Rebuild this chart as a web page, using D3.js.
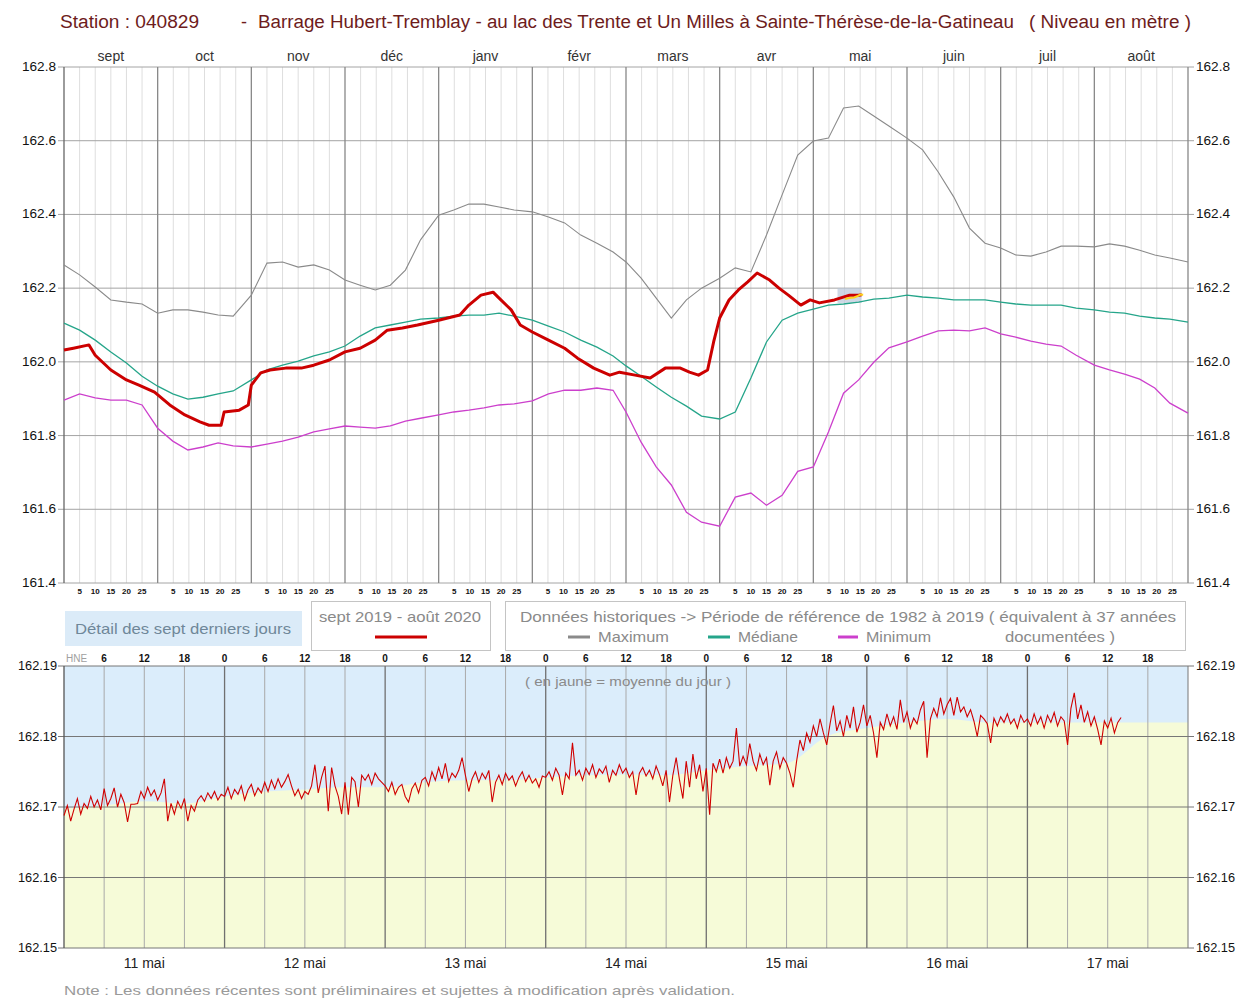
<!DOCTYPE html>
<html><head><meta charset="utf-8">
<script src="https://cdn.jsdelivr.net/npm/d3@7"></script>
<style>
body{margin:0;background:#fff}
svg{display:block}
text{font-family:"Liberation Sans Narrow","Arial Narrow","Liberation Sans",Arial,sans-serif}
</style>
</head><body>
<svg id="c" width="1238" height="999"></svg>
<script>
// ---------- DATA ----------
const months = ["sept","oct","nov","déc","janv","févr","mars","avr","mai","juin","juil","août"];
const monthLengths = [30,31,30,31,31,29,31,30,31,30,31,31,30];
const sampleDays = [1,6,11,16,21,26];
const yTicksTop = [161.4,161.6,161.8,162.0,162.2,162.4,162.6,162.8];
const dayTickLabels = ["5","10","15","20","25"];

const maxLevels = [162.263,162.236,162.203,162.168,162.162,162.157,
 162.132,162.141,162.141,162.135,162.127,162.124,
 162.181,162.268,162.271,162.257,162.263,162.249,
 162.222,162.208,162.195,162.208,162.249,162.331,
 162.398,162.412,162.428,162.428,162.420,162.412,
 162.407,162.393,162.377,162.344,162.322,162.298,
 162.271,162.227,162.173,162.119,162.168,162.200,
 162.227,162.255,162.244,162.344,162.453,162.561,
 162.599,162.607,162.689,162.694,162.667,162.640,
 162.607,162.575,162.515,162.447,162.363,162.322,
 162.309,162.290,162.287,162.298,162.314,162.314,
 162.312,162.320,162.314,162.303,162.290,162.282,
 162.271];
const medianLevels = [162.105,162.086,162.059,162.027,161.997,161.961,
 161.934,161.913,161.899,161.904,161.913,161.921,
 161.951,161.978,161.991,162.002,162.016,162.027,
 162.043,162.070,162.092,162.100,162.108,162.116,
 162.119,162.124,162.127,162.127,162.132,162.124,
 162.113,162.097,162.081,162.059,162.040,162.016,
 161.989,161.961,161.932,161.904,161.880,161.853,
 161.845,161.864,161.956,162.054,162.113,162.132,
 162.143,162.154,162.157,162.162,162.170,162.173,
 162.181,162.176,162.173,162.168,162.168,162.168,
 162.162,162.157,162.154,162.154,162.154,162.146,
 162.141,162.135,162.132,162.124,162.119,162.116,
 162.108];
const minLevels = [161.896,161.913,161.902,161.896,161.896,161.883,
 161.820,161.785,161.761,161.769,161.780,161.772,
 161.769,161.777,161.785,161.796,161.810,161.818,
 161.826,161.823,161.820,161.826,161.839,161.847,
 161.856,161.864,161.869,161.875,161.883,161.886,
 161.894,161.913,161.923,161.923,161.929,161.923,
 161.864,161.782,161.715,161.666,161.592,161.565,
 161.554,161.633,161.644,161.611,161.638,161.703,
 161.715,161.810,161.915,161.951,161.999,162.038,
 162.054,162.070,162.084,162.086,162.084,162.092,
 162.076,162.067,162.056,162.048,162.043,162.018,
 161.991,161.978,161.967,161.953,161.929,161.888,
 161.861];

const currentDates = ["2019-09-01","2019-09-04","2019-09-09","2019-09-11","2019-09-16","2019-09-21","2019-09-25","2019-09-30",
 "2019-10-05","2019-10-10","2019-10-15","2019-10-18","2019-10-22","2019-10-23","2019-10-28","2019-10-31",
 "2019-11-01","2019-11-04","2019-11-07","2019-11-12","2019-11-17","2019-11-21","2019-11-26",
 "2019-12-01","2019-12-06","2019-12-11","2019-12-15","2019-12-20","2019-12-25",
 "2020-01-01","2020-01-08","2020-01-11","2020-01-15","2020-01-19","2020-01-21","2020-01-25","2020-01-28",
 "2020-02-01","2020-02-06","2020-02-11","2020-02-15","2020-02-20","2020-02-25","2020-02-28",
 "2020-03-04","2020-03-09","2020-03-14","2020-03-19","2020-03-22","2020-03-25","2020-03-28","2020-03-30",
 "2020-04-01","2020-04-04","2020-04-07","2020-04-10","2020-04-13","2020-04-17","2020-04-20","2020-04-23","2020-04-27","2020-04-30",
 "2020-05-03","2020-05-08","2020-05-13","2020-05-16","2020-05-17"];
const currentLevels = [162.032,162.037,162.046,162.018,161.978,161.951,161.937,161.918,
 161.883,161.856,161.837,161.828,161.828,161.864,161.869,161.883,
 161.937,161.970,161.978,161.983,161.983,161.991,162.005,
 162.027,162.037,162.059,162.086,162.092,162.100,
 162.113,162.127,162.154,162.181,162.189,162.173,162.141,162.100,
 162.081,162.059,162.037,162.010,161.983,161.964,161.972,
 161.964,161.956,161.983,161.983,161.972,161.964,161.978,162.054,
 162.119,162.168,162.195,162.217,162.241,162.222,162.200,162.181,162.154,162.168,
 162.160,162.168,162.181,162.181,162.182];

const detailDayLabels = ["11 mai","12 mai","13 mai","14 mai","15 mai","16 mai","17 mai"];
const dailyMeans = [162.1705,162.1728,162.1740,162.1748,162.1780,162.1826,162.1820];
// running mean of the level (yellow fill), every 6 hours from 11 mai 0 h
const runningMean = [162.1698,162.1702,162.1708,162.1705,
 162.1715,162.1722,162.1725,162.1728,
 162.1728,162.1735,162.1738,162.1738,
 162.1742,162.1745,162.1746,162.1745,
 162.1752,162.1758,162.1762,162.1800,
 162.1812,162.1820,162.1825,162.1820,
 162.1820,162.1820,162.1820,162.1820,162.1820];

// half-hourly levels, last seven days
const levels11 = [162.1688,162.1702,162.1680,162.1697,162.1712,162.1690,162.1705,162.1698,162.1715,162.1700,162.1710,162.1696,
 162.1726,162.1702,162.1712,162.1727,162.1700,162.1718,162.1706,162.1679,162.1704,162.1704,162.1705,162.1722,
 162.1712,162.1728,162.1716,162.1724,162.1710,162.1720,162.1740,162.1680,162.1705,162.1690,162.1708,162.1698,
 162.1712,162.1680,162.1702,162.1694,162.1710,162.1716,162.1708,162.1720,162.1712,162.1722,162.1710,162.1718];
const levels12 = [162.1715,162.1728,162.1712,162.1725,162.1718,162.1730,162.1710,162.1724,162.1732,162.1716,162.1727,162.1720,
 162.1735,162.1722,162.1738,162.1726,162.1740,162.1728,162.1736,162.1746,162.1730,162.1716,162.1725,162.1712,
 162.1722,162.1718,162.1730,162.1760,162.1720,162.1742,162.1758,162.1694,162.1756,162.1730,162.1715,162.1690,
 162.1735,162.1689,162.1742,162.1736,162.1700,162.1745,162.1738,162.1746,162.1732,162.1748,162.1740,162.1735];
const levels13 = [162.1730,162.1722,162.1735,162.1718,162.1728,162.1732,162.1715,162.1707,162.1726,162.1734,162.1720,162.1738,
 162.1742,162.1730,162.1750,162.1738,162.1756,162.1740,162.1762,162.1736,162.1748,162.1742,162.1752,162.1770,
 162.1745,162.1722,162.1740,162.1750,162.1735,162.1748,162.1740,162.1752,162.1707,162.1735,162.1745,162.1732,
 162.1748,162.1738,162.1744,162.1730,162.1742,162.1750,162.1736,162.1745,162.1734,162.1740,162.1728,162.1744];
const levels14 = [162.1742,162.1750,162.1738,162.1755,162.1745,162.1717,162.1748,162.1740,162.1791,162.1745,162.1752,162.1738,
 162.1755,162.1746,162.1760,162.1742,162.1754,162.1748,162.1758,162.1735,162.1752,162.1745,162.1760,162.1748,
 162.1755,162.1742,162.1750,162.1717,162.1748,162.1756,162.1744,162.1752,162.1740,162.1758,162.1746,162.1730,
 162.1752,162.1707,162.1745,162.1770,162.1738,162.1712,162.1765,162.1728,162.1775,162.1740,162.1760,162.1722];
const levels15 = [162.1755,162.1689,162.1762,162.1750,162.1768,162.1748,162.1770,162.1755,162.1765,162.1812,162.1758,162.1772,
 162.1760,162.1790,162.1765,162.1752,162.1775,162.1760,162.1770,162.1731,162.1765,162.1778,162.1755,162.1770,
 162.1762,162.1748,162.1728,162.1765,162.1795,162.1780,162.1805,162.1792,162.1815,162.1800,162.1825,162.1805,
 162.1788,162.1818,162.1844,162.1808,162.1822,162.1800,162.1830,162.1812,162.1842,162.1806,162.1820,162.1845];
const levels16 = [162.1815,162.1830,162.1805,162.1770,162.1820,162.1810,162.1832,162.1815,162.1828,162.1810,162.1852,162.1820,
 162.1835,162.1812,162.1826,162.1818,162.1838,162.1850,162.1770,162.1825,162.1840,162.1828,162.1855,162.1832,
 162.1845,162.1854,162.1830,162.1856,162.1835,162.1842,162.1828,162.1838,162.1822,162.1800,162.1830,162.1825,
 162.1818,162.1791,162.1826,162.1815,162.1828,162.1820,162.1832,162.1818,162.1825,162.1812,162.1830,162.1820];
const levels17 = [162.1825,162.1815,162.1832,162.1818,162.1828,162.1812,162.1830,162.1820,162.1834,162.1815,162.1828,162.1822,
 162.1788,162.1840,162.1862,162.1825,162.1845,162.1820,162.1835,162.1815,162.1828,162.1810,162.1788,162.1822,
 162.1812,162.1826,162.1805,162.1820,162.1827];
const yTicksLow = [162.15,162.16,162.17,162.18,162.19];
const hourLabels = ["0","6","12","18"];

// ---------- HELPERS ----------
function monthPos(s){
  const [yy,mm,dd] = s.split("-").map(Number);
  const idx = (yy-2019)*12 + (mm-9);
  return idx + (dd-1)/monthLengths[idx];
}
const histDates = [];
months.forEach((m,i)=>{
  const cm = ((8+i)%12)+1, yr = i<4?2019:2020;
  sampleDays.forEach(d=>histDates.push(`${yr}-${String(cm).padStart(2,"0")}-${String(d).padStart(2,"0")}`));
});
histDates.push("2020-09-01");

const svg = d3.select("#c");

const titleCol = "#6e1c1c";
function txt(x,y,s,o={}){
  const t = svg.append("text").attr("x",x).attr("y",y).text(s)
    .attr("font-size",o.size||12).attr("fill",o.fill||"#222")
    .attr("text-anchor",o.anchor||"start");
  if(o.len){t.attr("textLength",o.len).attr("lengthAdjust","spacingAndGlyphs");}
  if(o.weight) t.attr("font-weight",o.weight);
  return t;
}
// ---------- TITLE ----------
txt(60,28,"Station : 040829",{size:18,fill:titleCol,len:139});
txt(241,28,"-",{size:18,fill:titleCol});
txt(258,28,"Barrage Hubert-Tremblay - au lac des Trente et Un Milles à Sainte-Thérèse-de-la-Gatineau",{size:18,fill:titleCol,len:756});
txt(1029,28,"( Niveau en mètre )",{size:18,fill:titleCol,len:162});

// ---------- TOP CHART ----------
const L=64,R=1188,TT=67,TB=583;
const x = d3.scaleLinear().domain([0,12]).range([L,R]);
const y = d3.scaleLinear().domain([161.4,162.8]).range([TB,TT]);

const gTop = svg.append("g");
for(let i=0;i<12;i++) for(let j=1;j<=5;j++){
  gTop.append("line").attr("x1",x(i+j/6)).attr("x2",x(i+j/6)).attr("y1",TT).attr("y2",TB)
    .attr("stroke","#dedede").attr("stroke-width",1);
}
yTicksTop.forEach(v=>{
  gTop.append("line").attr("x1",L-6).attr("x2",R+6).attr("y1",y(v)).attr("y2",y(v))
    .attr("stroke","#a4a4a4").attr("stroke-width",1);
  txt(L-8,y(v)+4,v.toFixed(1),{size:12,fill:"#111",anchor:"end",len:34});
  txt(R+8,y(v)+4,v.toFixed(1),{size:12,fill:"#111",len:34});
});
for(let i=0;i<=12;i++){
  gTop.append("line").attr("x1",x(i)).attr("x2",x(i)).attr("y1",TT).attr("y2",TB)
    .attr("stroke",(i===0)?"#666":"#888").attr("stroke-width",1.3);
}
months.forEach((m,i)=>txt(x(i+0.5),61,m,{size:14,fill:"#333",anchor:"middle"}));
months.forEach((m,i)=>dayTickLabels.forEach((d,j)=>
  txt(x(i+(j+1)/6),594,d,{size:8,fill:"#111",anchor:"middle",weight:"bold"})));

// highlight rect of last seven days
gTop.append("rect").attr("x",x(monthPos("2020-05-09"))).attr("width",x(monthPos("2020-05-17"))-x(monthPos("2020-05-09")))
  .attr("y",y(162.20)).attr("height",y(162.16)-y(162.20)).attr("fill","#b9c6d8").attr("opacity",0.7);

const lineTop = d3.line().x(d=>x(d.p)).y(d=>y(d.v));
const hist = (arr)=>arr.map((v,i)=>({p:monthPos(histDates[i]),v}));
gTop.append("path").attr("d",lineTop(hist(maxLevels))).attr("fill","none").attr("stroke","#8a8a8a").attr("stroke-width",1.1);
gTop.append("path").attr("d",lineTop(hist(medianLevels))).attr("fill","none").attr("stroke","#25a58a").attr("stroke-width",1.3);
gTop.append("path").attr("d",lineTop(hist(minLevels))).attr("fill","none").attr("stroke","#cc3fcc").attr("stroke-width",1.3);
gTop.append("path").attr("d",lineTop(currentLevels.map((v,i)=>({p:monthPos(currentDates[i]),v}))))
  .attr("fill","none").attr("stroke","#cc0000").attr("stroke-width",3).attr("stroke-linejoin","round");
gTop.append("path").attr("d",lineTop(dailyMeans.map((v,i)=>({p:monthPos(`2020-05-${11+i}`)+0.5/31,v}))))
  .attr("fill","none").attr("stroke","#ffd21a").attr("stroke-width",2);

// ---------- LEGEND ----------
svg.append("rect").attr("x",65).attr("y",611).attr("width",237).attr("height",35).attr("fill","#dbebf8");
txt(183,634,"Détail des sept derniers jours",{size:15,fill:"#6f8799",anchor:"middle",len:216});
svg.append("rect").attr("x",311.5).attr("y",601.5).attr("width",179).attr("height",49).attr("fill","#fff").attr("stroke","#c4c4c4");
txt(400,622,"sept 2019 - août 2020",{size:15,fill:"#8a8a8a",anchor:"middle",len:162});
svg.append("line").attr("x1",375).attr("x2",427).attr("y1",637).attr("y2",637).attr("stroke","#cc0000").attr("stroke-width",3);
svg.append("rect").attr("x",505.5).attr("y",601.5).attr("width",680).attr("height",49).attr("fill","#fff").attr("stroke","#c4c4c4");
txt(520,622,"Données historiques -> Période de référence  de 1982 à 2019   ( équivalent à 37 années",{size:15,fill:"#8a8a8a",len:656});
svg.append("line").attr("x1",568).attr("x2",590).attr("y1",637).attr("y2",637).attr("stroke","#8a8a8a").attr("stroke-width",3);
txt(598,642,"Maximum",{size:15,fill:"#8a8a8a",len:71});
svg.append("line").attr("x1",708).attr("x2",730).attr("y1",637).attr("y2",637).attr("stroke","#25a58a").attr("stroke-width",3);
txt(738,642,"Médiane",{size:15,fill:"#8a8a8a",len:60});
svg.append("line").attr("x1",838).attr("x2",858).attr("y1",637).attr("y2",637).attr("stroke","#cc3fcc").attr("stroke-width",3);
txt(866,642,"Minimum",{size:15,fill:"#8a8a8a",len:65});
txt(1005,642,"documentées )",{size:15,fill:"#8a8a8a",len:110});

// ---------- LOWER CHART ----------
const LT=666,LB=948;
const t0 = new Date(2020,4,11), t1 = new Date(2020,4,18);
const xl = d3.scaleTime().domain([t0,t1]).range([L,R]);
const yl = d3.scaleLinear().domain([162.15,162.19]).range([LB,LT]);
const gLow = svg.append("g");
gLow.append("rect").attr("x",L).attr("y",LT).attr("width",R-L).attr("height",LB-LT).attr("fill","#dbedfb");
const meanPts = runningMean.map((v,i)=>({t:new Date(2020,4,11,6*i),v}));
gLow.append("path").attr("d",d3.area().curve(d3.curveMonotoneX).x(d=>xl(d.t)).y0(yl(162.15)).y1(d=>yl(d.v))(meanPts))
  .attr("fill","#f6fbd8");
txt(628,686,"( en jaune = moyenne du jour )",{size:13,fill:"#8a8a8a",anchor:"middle",len:206});
for(let h=1;h<28;h++){
  const t = new Date(2020,4,11,6*h);
  gLow.append("line").attr("x1",xl(t)).attr("x2",xl(t)).attr("y1",LT).attr("y2",LB)
    .attr("stroke",h%4===0?"#707070":"#a9a9a9").attr("stroke-width",h%4===0?1.3:1);
  txt(xl(t),662,hourLabels[h%4],{size:10,fill:"#111",anchor:"middle",weight:"bold"});
}
txt(66,662,"HNE",{size:10,fill:"#a0a0a0"});
yTicksLow.forEach(v=>{
  gLow.append("line").attr("x1",L-6).attr("x2",R+6).attr("y1",yl(v)).attr("y2",yl(v))
    .attr("stroke","#777").attr("stroke-width",1);
  txt(L-7,yl(v)+4,v.toFixed(2),{size:12,fill:"#111",anchor:"end",len:39});
  txt(R+8,yl(v)+4,v.toFixed(2),{size:12,fill:"#111",len:39});
});
gLow.append("line").attr("x1",L).attr("x2",L).attr("y1",LT).attr("y2",LB).attr("stroke","#555").attr("stroke-width",1.3);
gLow.append("line").attr("x1",R).attr("x2",R).attr("y1",LT).attr("y2",LB).attr("stroke","#777").attr("stroke-width",1);
detailDayLabels.forEach((d,i)=>txt(xl(new Date(2020,4,11+i,12)),968,d,{size:14,fill:"#222",anchor:"middle"}));

const lowSeries = [];
[levels11,levels12,levels13,levels14,levels15,levels16,levels17].forEach((arr,k)=>
  arr.forEach((v,i)=>lowSeries.push({t:new Date(2020,4,11+k,0,30*i),v})));
gLow.append("path").attr("d",d3.line().x(d=>xl(d.t)).y(d=>yl(d.v))(lowSeries))
  .attr("fill","none").attr("stroke","#d00000").attr("stroke-width",1.1);

txt(64,995,"Note : Les données récentes sont préliminaires et sujettes à modification après validation.",{size:13,fill:"#9a9a9a",len:671});
</script>
</body></html>
